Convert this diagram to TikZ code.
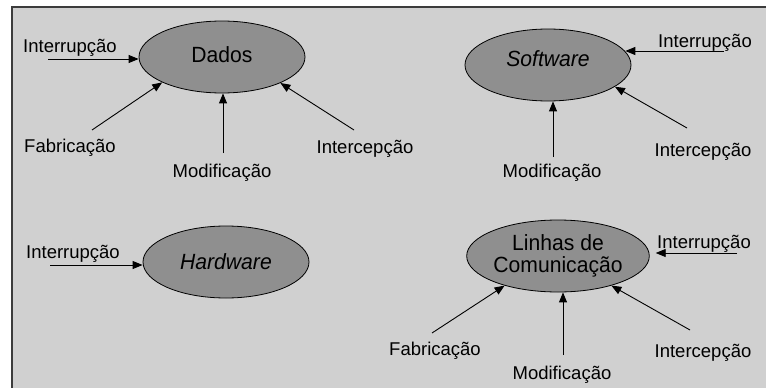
\documentclass[tikz,border=0pt]{standalone}
\usepackage{fontspec}
\setmainfont{Liberation Sans}
\usepackage{tikz}
\usetikzlibrary{arrows.meta,shapes.geometric,positioning}

\definecolor{fundo}{RGB}{208,208,208}
\definecolor{alvo}{RGB}{143,143,143}
\definecolor{moldura}{RGB}{60,60,60}

\begin{document}
\begin{tikzpicture}[x=1pt,y=-1pt,
  ativo/.style={ellipse,draw=black,fill=alvo,line width=0.8pt,minimum width=166pt,minimum height=72pt,inner sep=0pt,align=center,font=\fontsize{22}{22}\selectfont\addfontfeature{FakeStretch=0.96}},
  ameaca/.style={anchor=base,inner sep=0pt,font=\fontsize{18.5}{20}\selectfont},
  seta/.style={-{Triangle[length=10pt,width=8pt]},line width=0.9pt}]
  \useasboundingbox (0,0) rectangle (766,388);
  % fundo cinza com a moldura
  \fill[fundo] (12,7) rectangle (780,400);
  \draw[moldura,line width=2pt] (12,400) -- (12,7) -- (780,7);

  % os quatro ativos
  \node[ativo] (dados) at (222,57) {\raisebox{2pt}[\height][\depth]{Dados}};
  \node[ativo] (sw) at (548,65) {\raisebox{6pt}[\height][\depth]{\itshape Software}};
  \node[ativo] (hw) at (226,262) {\itshape Hardware};
  \node[ativo] (linhas) at (558,256) {Linhas de\\Comunicação};

  % ameacas aos dados
  \node[ameaca] (i1) at (70,52) {Interrupção};
  \node[ameaca] (f1) at (70,152) {Fabricação};
  \node[ameaca] (m1) at (222,177) {Modificação};
  \node[ameaca] (c1) at (365,153) {Intercepção};
  \coordinate (i1s) at (48,59);
  \coordinate (f1s) at (92,130);
  \coordinate (m1s) at (223,153);
  \coordinate (c1s) at (354,130);
  \draw[seta] (i1s) -- (i1s -| dados.west);
  \draw[seta] (f1s) -- (dados.203);
  \draw[seta] (m1s) -- (m1s |- dados.south);
  \draw[seta] (c1s) -- (dados.336);

  % ameacas ao software
  \node[ameaca] (i2) at (705,47) {Interrupção};
  \node[ameaca] (c2) at (703,156) {Intercepção};
  \node[ameaca] (m2) at (552,177) {Modificação};
  \coordinate (i2s) at (724,51);
  \coordinate (c2s) at (687,128);
  \coordinate (m2s) at (553,157);
  \draw[seta] (i2s) -- (i2s -| sw.10);
  \draw[seta] (c2s) -- (sw.342);
  \draw[seta] (m2s) -- (m2s |- sw.south);

  % ameaca ao hardware
  \node[ameaca] (i3) at (73,258) {Interrupção};
  \coordinate (i3s) at (50,265);
  \draw[seta] (i3s) -- (i3s -| hw.west);

  % ameacas as linhas de comunicacao
  \node[ameaca] (i4) at (704,248) {Interrupção};
  \node[ameaca] (f4) at (435,355) {Fabricação};
  \node[ameaca] (m4) at (562,379) {Modificação};
  \node[ameaca] (c4) at (703,357) {Intercepção};
  \coordinate (i4s) at (737,253);
  \coordinate (f4s) at (432,333);
  \coordinate (m4s) at (563,355);
  \coordinate (c4s) at (690,330);
  \draw[seta,shorten >=6pt] (i4s) -- (i4s -| linhas.east);
  \draw[seta] (f4s) -- (linhas.209);
  \draw[seta] (m4s) -- (m4s |- linhas.south);
  \draw[seta] (c4s) -- (linhas.331);
\end{tikzpicture}
\end{document}
